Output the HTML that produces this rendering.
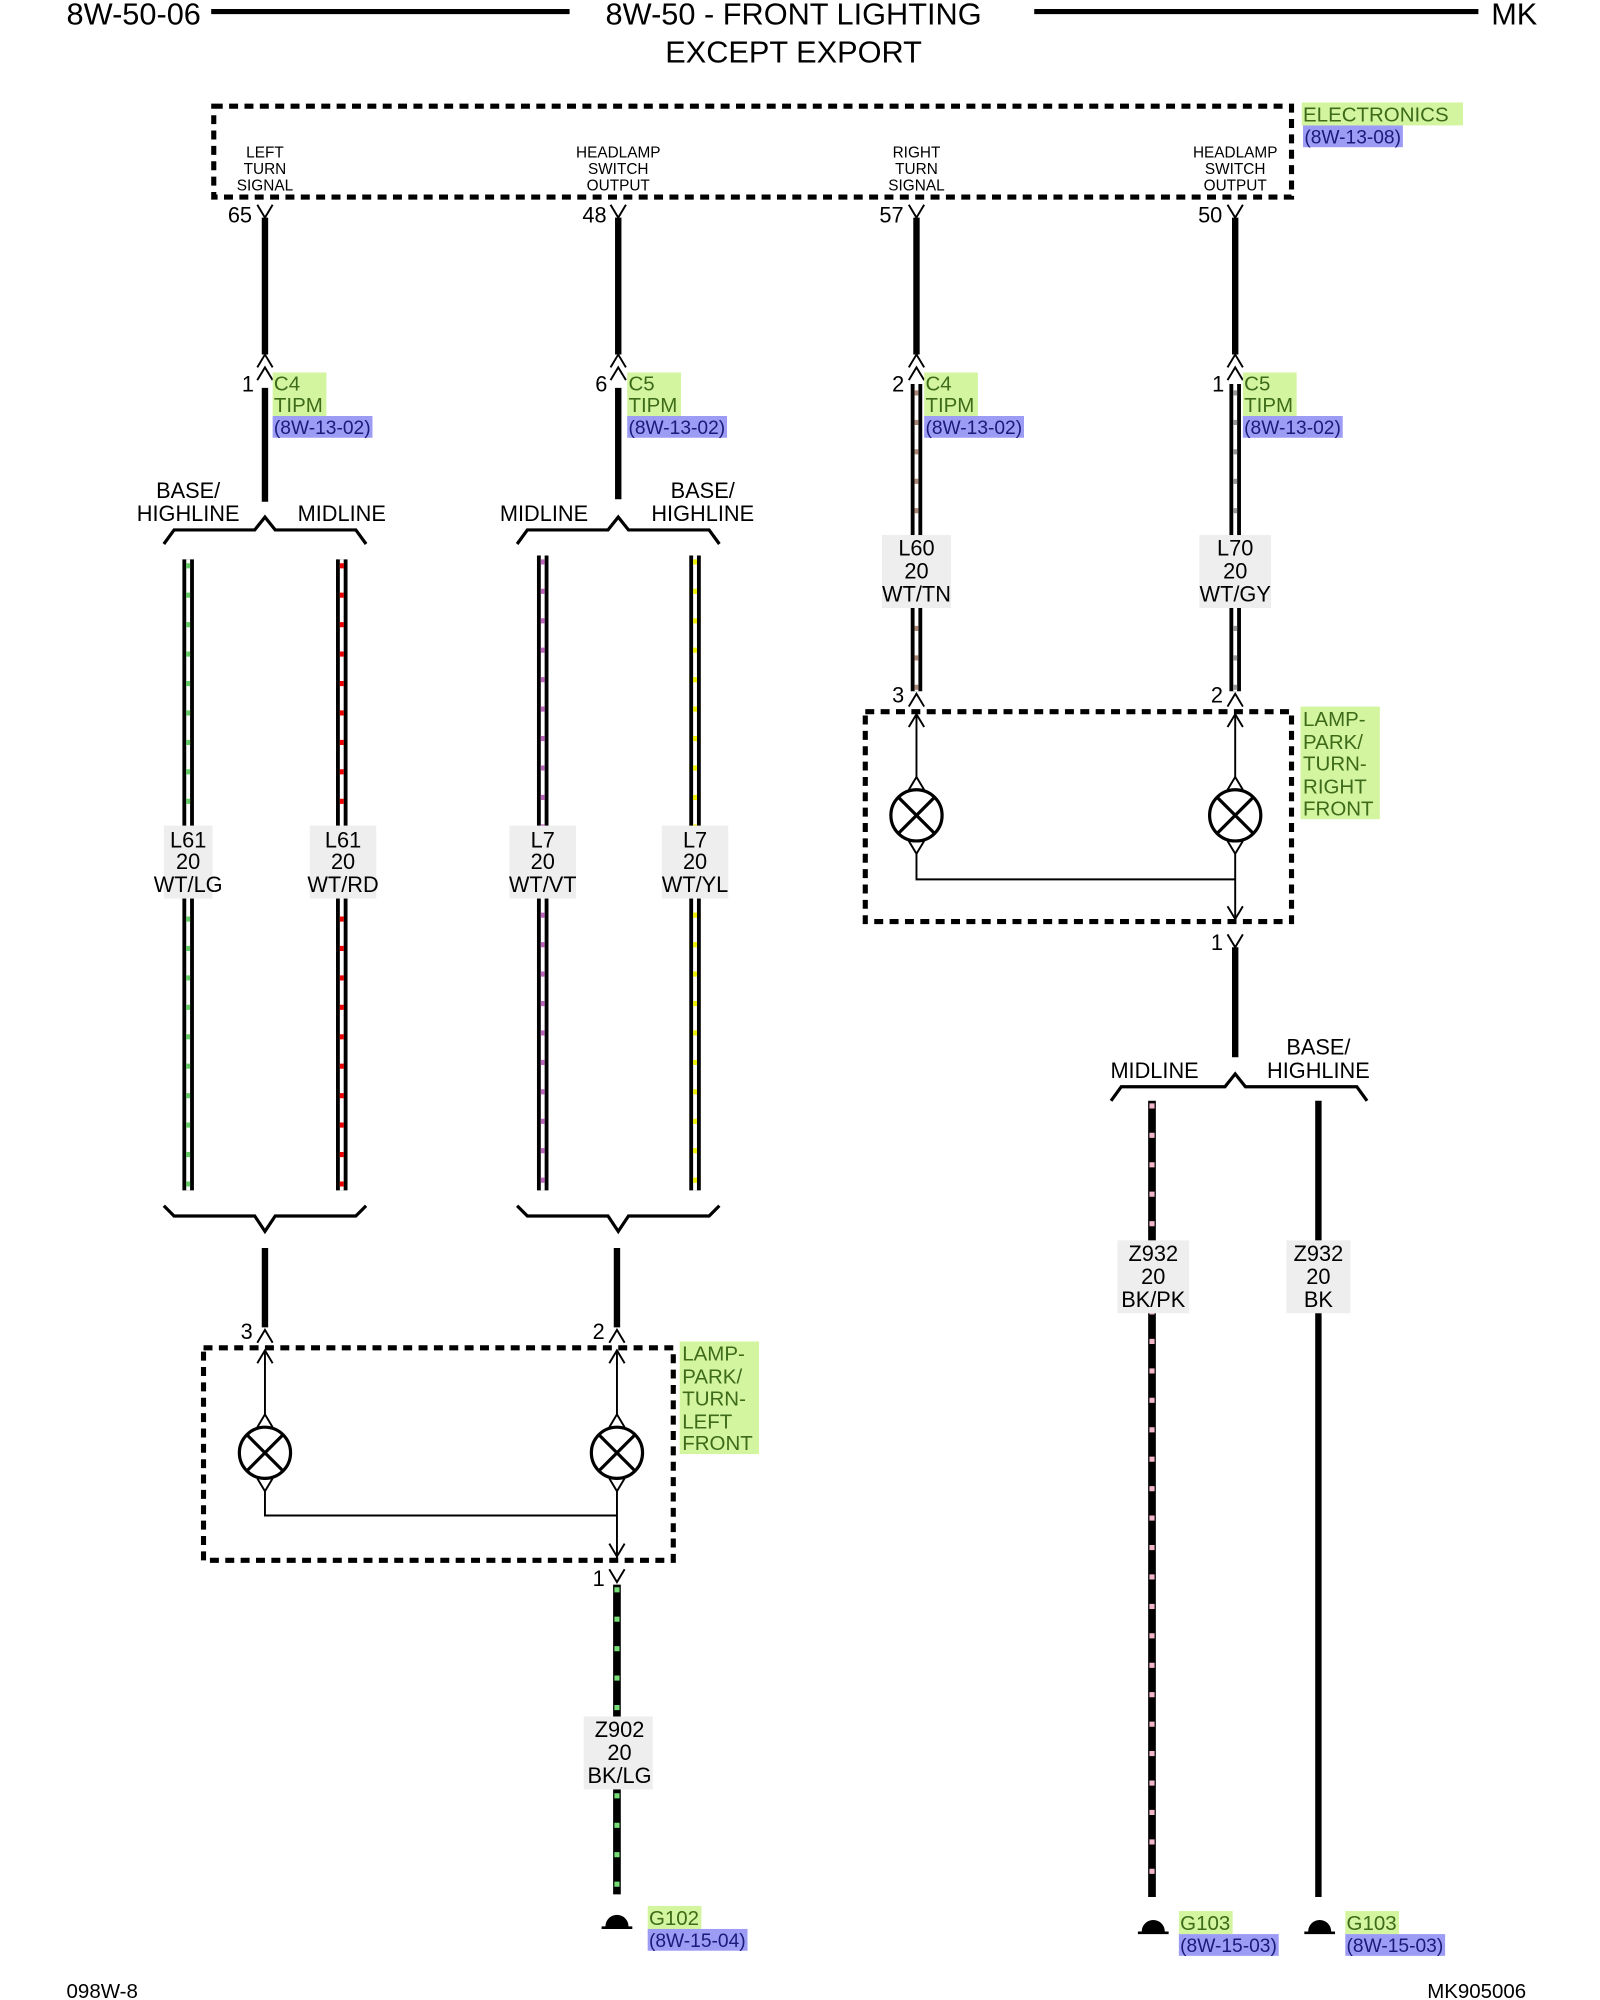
<!DOCTYPE html>
<html><head><meta charset="utf-8"><style>
html,body{margin:0;padding:0;background:#fff;}
svg{display:block;}
text{font-family:"Liberation Sans",Arial,sans-serif;}
.t{font-size:17px;fill:#000;}
.s{font-size:12px;fill:#000;}
.g{font-size:16px;fill:#3d6b1a;}
.b{font-size:15px;fill:#1a1a7a;}
.h{font-size:24px;fill:#000;}
</style></head><body>
<svg width="1600" height="2000" viewBox="0 0 1250 1562.5" xmlns="http://www.w3.org/2000/svg">
<rect width="1250" height="1562.5" fill="#fff"/>
<!-- header -->
<text class="h" x="52" y="19">8W-50-06</text>
<line x1="165" y1="9" x2="445" y2="9" stroke="#000" stroke-width="4"/>
<text class="h" x="620" y="19" text-anchor="middle">8W-50 - FRONT LIGHTING</text>
<line x1="808" y1="9" x2="1155" y2="9" stroke="#000" stroke-width="4"/>
<text class="h" x="1165" y="19">MK</text>
<text class="h" x="620" y="49" text-anchor="middle">EXCEPT EXPORT</text>

<!-- electronics box -->
<rect x="167" y="83" width="842" height="71" fill="none" stroke="#000" stroke-width="4" stroke-dasharray="7,5"/>
<rect x="1017" y="80" width="126" height="18" fill="#d4f5a0"/>
<text class="g" x="1018" y="95">ELECTRONICS</text>
<rect x="1018" y="98" width="78" height="17" fill="#9c9cf5"/>
<text class="b" x="1019" y="112">(8W-13-08)</text>
<g class="s" text-anchor="middle">
<text class="s" x="207" y="123">LEFT</text><text class="s" x="207" y="136">TURN</text><text class="s" x="207" y="149">SIGNAL</text>
<text class="s" x="483" y="123">HEADLAMP</text><text class="s" x="483" y="136">SWITCH</text><text class="s" x="483" y="149">OUTPUT</text>
<text class="s" x="716" y="123">RIGHT</text><text class="s" x="716" y="136">TURN</text><text class="s" x="716" y="149">SIGNAL</text>
<text class="s" x="965" y="123">HEADLAMP</text><text class="s" x="965" y="136">SWITCH</text><text class="s" x="965" y="149">OUTPUT</text>
</g>
<text class="t" x="178" y="174">65</text>
<text class="t" x="455" y="174">48</text>
<text class="t" x="687" y="174">57</text>
<text class="t" x="936" y="174">50</text>

<!-- top wires + connectors -->
<g stroke="#000" fill="none" stroke-width="1.5">
<path d="M201,160 L207,170 L213,160"/><path d="M477,160 L483,170 L489,160"/><path d="M710,160 L716,170 L722,160"/><path d="M959,160 L965,170 L971,160"/>
<path d="M201,287 L207,277 L213,287"/><path d="M201,297 L207,287 L213,297"/>
<path d="M477,287 L483,277 L489,287"/><path d="M477,297 L483,287 L489,297"/>
<path d="M710,287 L716,277 L722,287"/><path d="M710,297 L716,287 L722,297"/>
<path d="M959,287 L965,277 L971,287"/><path d="M959,297 L965,287 L971,297"/>
</g>
<g stroke="#000" stroke-width="5">
<line x1="207" y1="170" x2="207" y2="277"/><line x1="483" y1="170" x2="483" y2="277"/>
<line x1="716" y1="170" x2="716" y2="277"/><line x1="965" y1="170" x2="965" y2="277"/>
<line x1="207" y1="303" x2="207" y2="392"/><line x1="483" y1="303" x2="483" y2="390"/>
</g>
<!-- connector labels -->
<text class="t" x="189" y="306">1</text>
<rect x="213" y="291" width="42" height="34" fill="#d4f5a0"/><text class="g" x="214" y="305">C4</text><text class="g" x="214" y="322">TIPM</text>
<rect x="213" y="325" width="78" height="17" fill="#9c9cf5"/><text class="b" x="214" y="339">(8W-13-02)</text>
<text class="t" x="465" y="306">6</text>
<rect x="490" y="291" width="42" height="34" fill="#d4f5a0"/><text class="g" x="491" y="305">C5</text><text class="g" x="491" y="322">TIPM</text>
<rect x="490" y="325" width="78" height="17" fill="#9c9cf5"/><text class="b" x="491" y="339">(8W-13-02)</text>
<text class="t" x="697" y="306">2</text>
<rect x="722" y="291" width="42" height="34" fill="#d4f5a0"/><text class="g" x="723" y="305">C4</text><text class="g" x="723" y="322">TIPM</text>
<rect x="722" y="325" width="78" height="17" fill="#9c9cf5"/><text class="b" x="723" y="339">(8W-13-02)</text>
<text class="t" x="947" y="306">1</text>
<rect x="971" y="291" width="42" height="34" fill="#d4f5a0"/><text class="g" x="972" y="305">C5</text><text class="g" x="972" y="322">TIPM</text>
<rect x="971" y="325" width="78" height="17" fill="#9c9cf5"/><text class="b" x="972" y="339">(8W-13-02)</text>

<!-- braces -->
<g stroke="#000" stroke-width="2.5" fill="none">
<path d="M128,425 L136,414 L199,414 L207,404 L215,414 L278,414 L286,425"/>
<path d="M404,425 L412,414 L475,414 L483,404 L491,414 L554,414 L562,425"/>
<path d="M868,860 L876,849 L957,849 L965,839 L973,849 L1060,849 L1068,860"/>
<path d="M128,942 L136,950 L199,950 L207,962 L215,950 L278,950 L286,942"/>
<path d="M404,942 L412,950 L475,950 L483,962 L491,950 L554,950 L562,942"/>
</g>
<text class="t" x="147" y="389" text-anchor="middle">BASE/</text><text class="t" x="147" y="407" text-anchor="middle">HIGHLINE</text>
<text class="t" x="267" y="407" text-anchor="middle">MIDLINE</text>
<text class="t" x="425" y="407" text-anchor="middle">MIDLINE</text>
<text class="t" x="549" y="389" text-anchor="middle">BASE/</text><text class="t" x="549" y="407" text-anchor="middle">HIGHLINE</text>
<text class="t" x="902" y="842" text-anchor="middle">MIDLINE</text>
<text class="t" x="1030" y="824" text-anchor="middle">BASE/</text><text class="t" x="1030" y="842" text-anchor="middle">HIGHLINE</text>

<!-- striped wires -->
<g>
<line x1="147" y1="437" x2="147" y2="930" stroke="#000" stroke-width="9"/><line x1="147" y1="437" x2="147" y2="930" stroke="#fff" stroke-width="3"/><line x1="147" y1="440" x2="147" y2="930" stroke="#6c6" stroke-width="3" stroke-dasharray="4,19"/>
<line x1="267" y1="437" x2="267" y2="930" stroke="#000" stroke-width="9"/><line x1="267" y1="437" x2="267" y2="930" stroke="#fff" stroke-width="3"/><line x1="267" y1="440" x2="267" y2="930" stroke="#e00" stroke-width="3" stroke-dasharray="4,19"/>
<line x1="424" y1="434" x2="424" y2="930" stroke="#000" stroke-width="9"/><line x1="424" y1="434" x2="424" y2="930" stroke="#fff" stroke-width="3"/><line x1="424" y1="437" x2="424" y2="930" stroke="#b6b" stroke-width="3" stroke-dasharray="4,19"/>
<line x1="543" y1="434" x2="543" y2="930" stroke="#000" stroke-width="9"/><line x1="543" y1="434" x2="543" y2="930" stroke="#fff" stroke-width="3"/><line x1="543" y1="437" x2="543" y2="930" stroke="#ee0" stroke-width="3" stroke-dasharray="4,19"/>
<line x1="716" y1="300" x2="716" y2="540" stroke="#000" stroke-width="9"/><line x1="716" y1="300" x2="716" y2="540" stroke="#fff" stroke-width="3"/><line x1="716" y1="305" x2="716" y2="540" stroke="#a87" stroke-width="3" stroke-dasharray="4,19"/>
<line x1="965" y1="300" x2="965" y2="540" stroke="#000" stroke-width="9"/><line x1="965" y1="300" x2="965" y2="540" stroke="#fff" stroke-width="3"/><line x1="965" y1="305" x2="965" y2="540" stroke="#999" stroke-width="3" stroke-dasharray="4,19"/>
<line x1="482" y1="1238" x2="482" y2="1480" stroke="#000" stroke-width="6"/><line x1="482" y1="1240" x2="482" y2="1480" stroke="#7d7" stroke-width="4" stroke-dasharray="4,19"/>
<line x1="900" y1="860" x2="900" y2="1482" stroke="#000" stroke-width="6"/><line x1="900" y1="862" x2="900" y2="1482" stroke="#f3b8c8" stroke-width="4" stroke-dasharray="4,19"/>
<line x1="1030" y1="860" x2="1030" y2="1482" stroke="#000" stroke-width="5"/>
</g>
<!-- wire labels -->
<g>
<rect x="128" y="645" width="38" height="57" fill="#eee"/><text class="t" x="147" y="662" text-anchor="middle">L61</text><text class="t" x="147" y="679" text-anchor="middle">20</text><text class="t" x="147" y="697" text-anchor="middle">WT/LG</text>
<rect x="242" y="645" width="52" height="57" fill="#eee"/><text class="t" x="268" y="662" text-anchor="middle">L61</text><text class="t" x="268" y="679" text-anchor="middle">20</text><text class="t" x="268" y="697" text-anchor="middle">WT/RD</text>
<rect x="398" y="645" width="52" height="57" fill="#eee"/><text class="t" x="424" y="662" text-anchor="middle">L7</text><text class="t" x="424" y="679" text-anchor="middle">20</text><text class="t" x="424" y="697" text-anchor="middle">WT/VT</text>
<rect x="517" y="645" width="52" height="57" fill="#eee"/><text class="t" x="543" y="662" text-anchor="middle">L7</text><text class="t" x="543" y="679" text-anchor="middle">20</text><text class="t" x="543" y="697" text-anchor="middle">WT/YL</text>
<rect x="689" y="418" width="54" height="57" fill="#eee"/><text class="t" x="716" y="434" text-anchor="middle">L60</text><text class="t" x="716" y="452" text-anchor="middle">20</text><text class="t" x="716" y="470" text-anchor="middle">WT/TN</text>
<rect x="937" y="418" width="56" height="57" fill="#eee"/><text class="t" x="965" y="434" text-anchor="middle">L70</text><text class="t" x="965" y="452" text-anchor="middle">20</text><text class="t" x="965" y="470" text-anchor="middle">WT/GY</text>
<rect x="456" y="1341" width="54" height="57" fill="#eee"/><text class="t" x="484" y="1357" text-anchor="middle">Z902</text><text class="t" x="484" y="1375" text-anchor="middle">20</text><text class="t" x="484" y="1393" text-anchor="middle">BK/LG</text>
<rect x="873" y="969" width="56" height="57" fill="#eee"/><text class="t" x="901" y="985" text-anchor="middle">Z932</text><text class="t" x="901" y="1003" text-anchor="middle">20</text><text class="t" x="901" y="1021" text-anchor="middle">BK/PK</text>
<rect x="1005" y="969" width="50" height="57" fill="#eee"/><text class="t" x="1030" y="985" text-anchor="middle">Z932</text><text class="t" x="1030" y="1003" text-anchor="middle">20</text><text class="t" x="1030" y="1021" text-anchor="middle">BK</text>
</g>

<!-- black wires below braces -->
<g stroke="#000" stroke-width="5">
<line x1="207" y1="975" x2="207" y2="1037"/><line x1="482" y1="975" x2="482" y2="1037"/>
<line x1="965" y1="740" x2="965" y2="826"/>
</g>

<!-- right lamp box -->
<rect x="676" y="556" width="333" height="164" fill="none" stroke="#000" stroke-width="4" stroke-dasharray="7,5"/>
<rect x="1016" y="552" width="62" height="88" fill="#d4f5a0"/>
<text class="g" x="1018" y="567">LAMP-</text><text class="g" x="1018" y="585">PARK/</text><text class="g" x="1018" y="602">TURN-</text><text class="g" x="1018" y="620">RIGHT</text><text class="g" x="1018" y="637">FRONT</text>
<text class="t" x="697" y="549">3</text><text class="t" x="946" y="549">2</text><text class="t" x="946" y="742">1</text>
<g stroke="#000" fill="none" stroke-width="1.5">
<path d="M710,552 L716,542 L722,552"/><path d="M959,552 L965,542 L971,552"/>
<line x1="716" y1="558" x2="716" y2="607"/><path d="M710,568 L716,558 L722,568"/><path d="M710,617 L716,607 L722,617"/>
<line x1="965" y1="558" x2="965" y2="607"/><path d="M959,568 L965,558 L971,568"/><path d="M959,617 L965,607 L971,617"/>
<path d="M710,657 L716,667 L722,657"/><path d="M959,657 L965,667 L971,657"/>
<path d="M716,667 L716,687 L965,687 M965,667 L965,720"/>
<path d="M959,708 L965,718 L971,708"/><path d="M959,730 L965,740 L971,730"/>
</g>
<g stroke="#000" stroke-width="2.5" fill="#fff">
<circle cx="716" cy="637" r="20"/><circle cx="965" cy="637" r="20"/>
<path d="M702,623 L730,651 M730,623 L702,651 M951,623 L979,651 M979,623 L951,651"/>
</g>

<!-- left lamp box -->
<rect x="159" y="1053" width="367" height="166" fill="none" stroke="#000" stroke-width="4" stroke-dasharray="7,5"/>
<rect x="531" y="1048" width="62" height="88" fill="#d4f5a0"/>
<text class="g" x="533" y="1063">LAMP-</text><text class="g" x="533" y="1081">PARK/</text><text class="g" x="533" y="1098">TURN-</text><text class="g" x="533" y="1116">LEFT</text><text class="g" x="533" y="1133">FRONT</text>
<text class="t" x="188" y="1046">3</text><text class="t" x="463" y="1046">2</text><text class="t" x="463" y="1239">1</text>
<g stroke="#000" fill="none" stroke-width="1.5">
<path d="M201,1049 L207,1039 L213,1049"/><path d="M476,1049 L482,1039 L488,1049"/>
<line x1="207" y1="1055" x2="207" y2="1105"/><path d="M201,1065 L207,1055 L213,1065"/><path d="M201,1115 L207,1105 L213,1115"/>
<line x1="482" y1="1055" x2="482" y2="1105"/><path d="M476,1065 L482,1055 L488,1065"/><path d="M476,1115 L482,1105 L488,1115"/>
<path d="M201,1155 L207,1165 L213,1155"/><path d="M476,1155 L482,1165 L488,1155"/>
<path d="M207,1165 L207,1184 L482,1184 M482,1165 L482,1218"/>
<path d="M476,1206 L482,1216 L488,1206"/><path d="M476,1226 L482,1236 L488,1226"/>
</g>
<g stroke="#000" stroke-width="2.5" fill="#fff">
<circle cx="207" cy="1135" r="20"/><circle cx="482" cy="1135" r="20"/>
<path d="M193,1121 L221,1149 M221,1121 L193,1149 M468,1121 L496,1149 M496,1121 L468,1149"/>
</g>

<!-- grounds -->
<g fill="#000" stroke="#000" stroke-width="2">
<path d="M474,1505 A8,8 0 0 1 490,1505 Z"/><line x1="470" y1="1506" x2="494" y2="1506"/>
<path d="M893,1509 A8,8 0 0 1 909,1509 Z"/><line x1="889" y1="1510" x2="913" y2="1510"/>
<path d="M1023,1509 A8,8 0 0 1 1039,1509 Z"/><line x1="1019" y1="1510" x2="1043" y2="1510"/>
</g>
<rect x="506" y="1489" width="42" height="18" fill="#d4f5a0"/><text class="g" x="507" y="1504">G102</text>
<rect x="506" y="1507" width="78" height="17" fill="#9c9cf5"/><text class="b" x="507" y="1521">(8W-15-04)</text>
<rect x="921" y="1493" width="42" height="18" fill="#d4f5a0"/><text class="g" x="922" y="1508">G103</text>
<rect x="921" y="1511" width="78" height="17" fill="#9c9cf5"/><text class="b" x="922" y="1525">(8W-15-03)</text>
<rect x="1051" y="1493" width="42" height="18" fill="#d4f5a0"/><text class="g" x="1052" y="1508">G103</text>
<rect x="1051" y="1511" width="78" height="17" fill="#9c9cf5"/><text class="b" x="1052" y="1525">(8W-15-03)</text>

<!-- footer -->
<text class="t" x="52" y="1561" style="font-size:16px">098W-8</text>
<text class="t" x="1115" y="1561" style="font-size:16px">MK905006</text>
</svg>
</body></html>
